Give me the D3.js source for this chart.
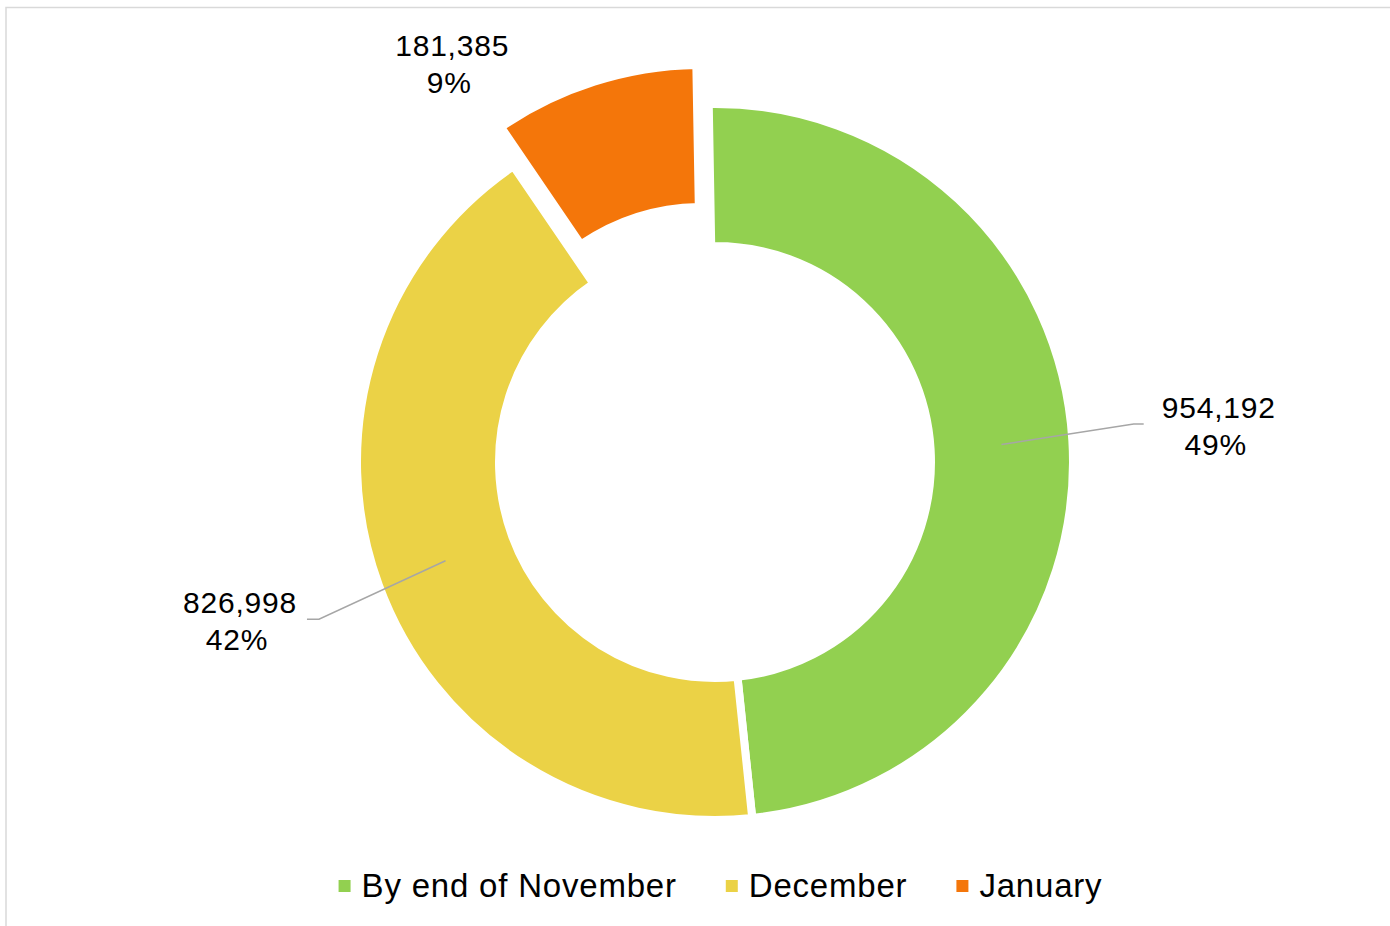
<!DOCTYPE html>
<html>
<head>
<meta charset="utf-8">
<script src="https://cdn.jsdelivr.net/npm/d3@7"></script>
<style>
  html, body { margin: 0; padding: 0; background: #ffffff; }
  svg { display: block; }
  text { font-family: "Liberation Sans", Arial, sans-serif; fill: #000; }
</style>
</head>
<body>
<svg id="chart" width="1390" height="926"></svg>
<script>
// Chart data
const categories = ["By end of November", "December", "January"];
const values = [954192, 826998, 181385];
const colors = ["#92D050", "#EBD246", "#F4760A"];
const exploded = [false, false, true];

const W = 1390, H = 926;
const cx = 715, cy = 462;
const outerR = 358, innerR = 216;
const deg = Math.PI / 180;

const svg = d3.select("#chart");

// Chart area border
svg.append("rect")
  .attr("x", 6).attr("y", 7.5)
  .attr("width", W + 20).attr("height", H + 20)
  .attr("fill", "none")
  .attr("stroke", "#d9d9d9")
  .attr("stroke-width", 1.5);

const total = d3.sum(values);
const pie = d3.pie().sort(null).value(d => d)
  .startAngle(-1 * deg).endAngle(359 * deg);
const arcs = pie(values);

const arc = d3.arc().innerRadius(innerR).outerRadius(outerR);
const explodeDist = 41;

const g = svg.append("g").attr("transform", `translate(${cx},${cy})`);

function midAngle(d) { return (d.startAngle + d.endAngle) / 2; }
function offsetFor(d, i) {
  if (!exploded[i]) return [0, 0];
  const a = midAngle(d);
  return [Math.sin(a) * explodeDist, -Math.cos(a) * explodeDist];
}

g.selectAll("path.slice")
  .data(arcs)
  .join("path")
  .attr("class", "slice")
  .attr("d", arc)
  .attr("transform", (d, i) => { const o = offsetFor(d, i); return `translate(${o[0]},${o[1]})`; })
  .attr("fill", (d, i) => colors[i])
  .attr("stroke", "#ffffff")
  .attr("stroke-width", 8)
  .attr("stroke-linejoin", "miter");

// Data labels: value and share, with leader lines for the non-exploded slices
const labelLayout = [
  { r: 505, da: -0.6, leader: true },
  { r: 501, da: 1.6, leader: true },
  { r: 477, da: -15.8, leader: false }
];
const fmt = d3.format(",");
const centroidR = (innerR + outerR) / 2 + 0; // middle of the ring

arcs.forEach((d, i) => {
  const L = labelLayout[i];
  const a = midAngle(d) + L.da * deg;
  const lx = Math.sin(a) * L.r;
  const ly = -Math.cos(a) * L.r;
  const pct = Math.round(values[i] / total * 100) + "%";

  const t = g.append("text")
    .attr("text-anchor", "middle")
    .attr("font-size", 30)
    .attr("letter-spacing", "0.8px");
  t.append("tspan").attr("x", lx).attr("y", ly - 8).text(fmt(values[i]));
  t.append("tspan").attr("x", lx - 3).attr("y", ly + 29).text(pct);

  if (L.leader) {
    const ma = midAngle(d);
    const sx = Math.sin(ma) * 287, sy = -Math.cos(ma) * 287;
    const bb = t.node().getBBox();
    const right = lx > 0;
    const endX = right ? bb.x - 18 : bb.x + bb.width + 10;
    const elbowX = right ? endX - 10 : endX + 12;
    const elbowY = ly - 2;
    g.append("path")
      .attr("d", `M${sx},${sy}L${elbowX},${elbowY}L${endX},${elbowY}`)
      .attr("fill", "none")
      .attr("stroke", "#a6a6a6")
      .attr("stroke-width", 1.5);
  }
});

// Legend
const legend = svg.append("g");
const sq = 12, gapText = 11, gapItem = 49;
let x = 0;
const items = categories.map((c, i) => {
  const it = legend.append("g");
  it.append("rect").attr("x", 0).attr("y", 880).attr("width", sq).attr("height", sq).attr("fill", colors[i]);
  const tx = it.append("text")
    .attr("x", sq + gapText).attr("y", 897)
    .attr("font-size", 33)
    .attr("letter-spacing", "0.8px")
    .text(c);
  const w = sq + gapText + tx.node().getComputedTextLength();
  it.attr("transform", `translate(${x},0)`);
  x += w + gapItem;
  return w;
});
const legendW = x - gapItem;
legend.attr("transform", `translate(${720.5 - legendW / 2},0)`);
</script>
</body>
</html>
